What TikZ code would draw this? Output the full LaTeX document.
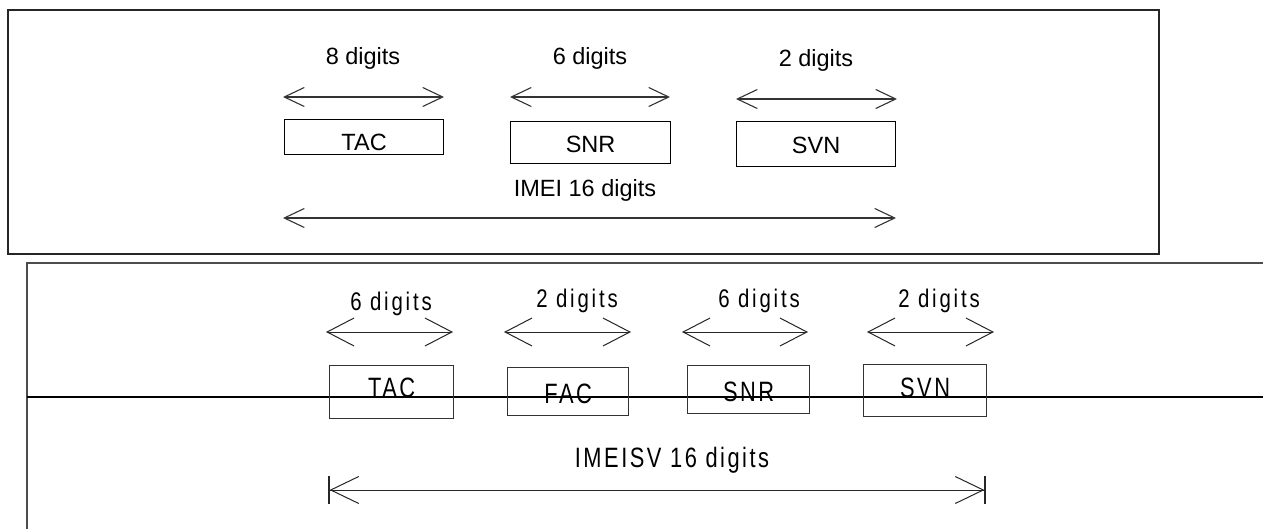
\documentclass[tikz,border=0pt]{standalone}
\usepackage{fontspec}
\setmainfont{Liberation Sans}
\newfontfamily\narrowlabel[FakeStretch=0.8,LetterSpace=11]{Liberation Sans}
\newfontfamily\narrowbox[FakeStretch=0.78,LetterSpace=9]{Liberation Sans}
\usetikzlibrary{arrows.meta}

\tikzset{
  toptext/.style={anchor=base, inner sep=0pt, font=\fontsize{23.5}{28}\selectfont},
  lowtext/.style={anchor=base, inner sep=0pt, font=\narrowlabel\fontsize{25.5}{30}\selectfont},
  idbox/.style={draw, line width=1.2pt, inner sep=0pt, anchor=north west},
  dimtop/.style={draw=black!80, line width=1.1pt, >={Straight Barb[length=20pt,width=19pt]}, <->},
  dimlow/.style={draw=black!85, line width=1pt, >={Straight Barb[length=27pt,width=28pt]}, <->},
  dimlong/.style={draw=black!85, line width=1pt,
    {Bar[width=28pt,line width=1.6pt]Straight Barb[length=28pt,width=27pt]}-{Straight Barb[length=28pt,width=27pt]Bar[width=28pt,line width=1.6pt]}},
}

\begin{document}
\begin{tikzpicture}[x=1pt, y=-1pt]
  \useasboundingbox (0,0) rectangle (1263,529);
  % IMEI: frame, three fields and the overall length
  \draw[black!85, line width=1.6pt] (8,10) rectangle (1159,254);
  \node[toptext] (tacdig) at (363,65) {8 digits};
  \node[toptext] (snrdig) at (590,65) {6 digits};
  \node[toptext] (svndig) at (816,67) {2 digits};
  \coordinate (tacL) at (283,97);  \coordinate (tacR) at (444,97);
  \coordinate (snrL) at (510,97);  \coordinate (snrR) at (670,97);
  \coordinate (svnL) at (736,99);  \coordinate (svnR) at (897,99);
  \draw[dimtop] (tacL) -- (tacR);
  \draw[dimtop] (snrL) -- (snrR);
  \draw[dimtop] (svnL) -- (svnR);
  \node[idbox, font=\fontsize{23.5}{28}\selectfont, minimum width=159pt, text height=31pt, text depth=4pt] (tac) at (284,119) {TAC};
  \node[idbox, font=\fontsize{23.5}{28}\selectfont, minimum width=160pt, text height=31pt, text depth=11pt] (snr) at (510,121) {SNR};
  \node[idbox, font=\fontsize{23.5}{28}\selectfont, minimum width=159pt, text height=32pt, text depth=13pt] (svn) at (736,121) {SVN};
  \node[toptext] (imei) at (585,197) {IMEI 16 digits};
  \coordinate (imeiL) at (283,218);  \coordinate (imeiR) at (896,218);
  \draw[dimtop] (imeiL) -- (imeiR);

  % IMEISV: open frame, ruled line, four fields
  \draw[black!70, line width=1.6pt] (1263,263) -- (27,263) -- (27,529);
  \draw[black, line width=1.6pt] (27,397) -- (1263,397);
  \node[lowtext] (tacsvdig) at (391,310) {6 digits};
  \node[lowtext] (facdig) at (577,307) {2 digits};
  \node[lowtext] (snrsvdig) at (759,307) {6 digits};
  \node[lowtext] (svnsvdig) at (939,307) {2 digits};
  \coordinate (tacsvL) at (326,332);  \coordinate (tacsvR) at (453,332);
  \coordinate (facL) at (504,332);    \coordinate (facR) at (631,332);
  \coordinate (snrsvL) at (682,332);  \coordinate (snrsvR) at (808,332);
  \coordinate (svnsvL) at (867,332);  \coordinate (svnsvR) at (994,332);
  \draw[dimlow] (tacsvL) -- (tacsvR);
  \draw[dimlow] (facL) -- (facR);
  \draw[dimlow] (snrsvL) -- (snrsvR);
  \draw[dimlow] (svnsvL) -- (svnsvR);
  \node[idbox, draw=black!80, font=\narrowbox\fontsize{28}{32}\selectfont, minimum width=124pt, text height=32pt, text depth=21pt] (tacsv) at (329,365) {TAC};
  \node[idbox, draw=black!80, font=\narrowbox\fontsize{28}{32}\selectfont, minimum width=121pt, text height=36pt, text depth=12pt] (fac) at (507,367) {FAC};
  \node[idbox, draw=black!80, font=\narrowbox\fontsize{28}{32}\selectfont, minimum width=122pt, text height=36pt, text depth=12pt] (snrsv) at (687,365) {SNR};
  \node[idbox, draw=black!80, font=\narrowbox\fontsize{28}{32}\selectfont, minimum width=123pt, text height=33pt, text depth=19pt] (svnsv) at (863,364) {SVN};
  \node[anchor=base, inner sep=0pt, font=\narrowbox\fontsize{28}{32}\selectfont] (imeisv) at (672,467) {IMEISV 16 digits};
  \coordinate (imeisvL) at (328,490);  \coordinate (imeisvR) at (986,490);
  \draw[dimlong] (imeisvL) -- (imeisvR);
\end{tikzpicture}
\end{document}
